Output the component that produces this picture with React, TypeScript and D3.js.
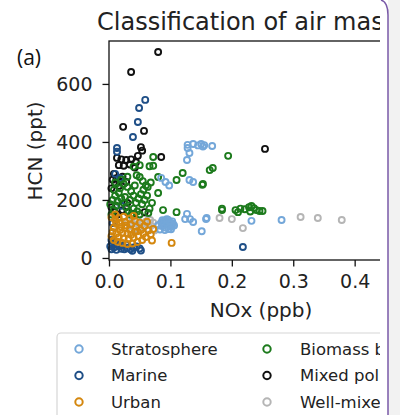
import * as d3 from 'd3';
import React, { useRef, useEffect } from 'react';

// NOx (ppb), HCN (ppt) pairs
const stratosphere: [number, number][] = [
  [0.128, 379], [0.137, 393], [0.150, 393], [0.155, 389], [0.153, 384], [0.168, 386], [0.145, 388],
  [0.128, 390], [0.131, 362], [0.127, 338], [0.131, 269], [0.137, 262], [0.085, 276], [0.092, 262],
  [0.098, 250], [0.127, 152], [0.132, 134], [0.124, 134], [0.137, 124], [0.159, 138], [0.151, 92],
  [0.158, 134], [0.232, 128], [0.281, 131],
  [0.083, 98], [0.086, 110], [0.088, 120], [0.090, 128], [0.092, 105], [0.094, 115], [0.095, 125],
  [0.097, 100], [0.099, 112], [0.100, 120], [0.102, 108], [0.104, 118], [0.091, 96], [0.087, 130],
  [0.096, 132], [0.103, 126], [0.089, 115], [0.093, 121], [0.098, 127], [0.085, 122], [0.106, 112],
  [0.080, 112], [0.101, 99], [0.094, 134],
];
const marine: [number, number][] = [
  [0.059, 545], [0.049, 517], [0.047, 469], [0.039, 417], [0.013, 379], [0.013, 366], [0.218, 38],
  [0.010, 290], [0.018, 275], [0.014, 195], [0.020, 180], [0.006, 120], [0.008, 105],
  [0.004, 30], [0.008, 36], [0.012, 28], [0.016, 40], [0.020, 32], [0.025, 30], [0.030, 35],
  [0.035, 30], [0.040, 36], [0.006, 48], [0.010, 55], [0.004, 62], [0.015, 45], [0.022, 42],
  [0.028, 46], [0.045, 40], [0.050, 33], [0.052, 26], [0.038, 25], [0.002, 40],
];
const urban: [number, number][] = [
  [0.004, 140], [0.010, 132], [0.016, 138], [0.024, 142], [0.034, 136], [0.042, 128], [0.050, 122],
  [0.058, 110], [0.064, 95], [0.068, 82], [0.060, 72], [0.054, 62], [0.046, 55], [0.038, 50],
  [0.030, 48], [0.022, 52], [0.014, 56], [0.008, 62], [0.004, 75], [0.006, 90], [0.008, 105],
  [0.012, 118], [0.018, 122], [0.026, 124], [0.036, 115], [0.044, 108], [0.052, 96], [0.056, 84],
  [0.048, 76], [0.040, 70], [0.032, 66], [0.024, 68], [0.016, 72], [0.012, 84], [0.018, 96],
  [0.026, 104], [0.034, 98], [0.042, 90], [0.030, 84], [0.022, 86], [0.036, 80], [0.046, 92],
  [0.020, 108], [0.028, 112], [0.062, 125], [0.072, 100], [0.102, 52], [0.070, 60], [0.040, 145],
  [0.010, 150],
];
const biomass: [number, number][] = [
  [0.072, 348], [0.072, 318], [0.066, 316], [0.050, 320], [0.040, 315], [0.080, 279], [0.050, 279],
  [0.063, 245], [0.080, 224], [0.110, 269], [0.120, 293], [0.153, 255], [0.164, 303], [0.152, 252],
  [0.169, 310], [0.194, 352], [0.088, 165], [0.110, 158],
  [0.184, 165], [0.184, 170], [0.206, 165], [0.210, 158], [0.221, 168], [0.228, 175], [0.232, 179],
  [0.236, 172], [0.240, 165], [0.245, 162], [0.250, 162], [0.230, 160], [0.214, 170],
  [0.004, 150], [0.008, 165], [0.012, 180], [0.006, 200], [0.010, 215], [0.016, 225], [0.020, 205],
  [0.024, 190], [0.028, 175], [0.032, 160], [0.036, 150], [0.040, 170], [0.044, 190], [0.048, 205],
  [0.052, 220], [0.056, 235], [0.060, 250], [0.036, 230], [0.030, 245], [0.024, 255], [0.018, 240],
  [0.042, 250], [0.046, 160], [0.054, 185], [0.058, 200], [0.062, 215], [0.066, 170], [0.070, 190],
  [0.014, 195], [0.026, 210], [0.034, 200], [0.040, 215], [0.050, 150], [0.064, 155], [0.002, 185],
  [0.068, 260], [0.010, 260], [0.020, 270], [0.030, 280], [0.045, 285], [0.055, 265], [0.008, 235],
];
const mixed: [number, number][] = [
  [0.080, 710], [0.036, 641], [0.023, 452], [0.057, 438], [0.052, 382], [0.054, 370], [0.047, 352],
  [0.085, 348], [0.254, 376],
  [0.013, 345], [0.020, 340], [0.028, 338], [0.036, 340], [0.044, 330], [0.016, 320], [0.024, 318],
  [0.034, 322], [0.042, 312], [0.008, 290], [0.012, 275], [0.018, 265], [0.010, 255], [0.016, 248],
  [0.022, 280], [0.028, 262], [0.006, 270], [0.004, 240],
  [0.008, 160], [0.014, 150], [0.022, 165], [0.030, 158], [0.040, 152], [0.058, 158], [0.004, 175],
  [0.030, 190],
];
const wellMixed: [number, number][] = [
  [0.180, 138], [0.200, 134], [0.218, 103], [0.312, 141], [0.340, 138], [0.379, 131], [0.067, 131],
  [0.030, 128], [0.038, 120], [0.046, 130], [0.054, 118], [0.060, 125], [0.068, 112], [0.072, 122],
  [0.050, 108], [0.042, 100], [0.064, 100], [0.074, 95], [0.056, 135], [0.034, 110], [0.080, 115],
];

const legendNames = ['Stratosphere', 'Marine', 'Urban', 'Biomass burning', 'Mixed pollution', 'Well-mixed background'];
const legendColors = ['#74a7d9', '#1f4f87', '#d4870e', '#1c7a1c', '#111111', '#b5b5b5'];
const xTicks = [0, 0.1, 0.2, 0.3, 0.4];
const yTicks = [0, 200, 400, 600];

// draw order (bottom to top)
const layers = [
  { data: wellMixed, color: legendColors[5] },
  { data: mixed, color: legendColors[4] },
  { data: marine, color: legendColors[1] },
  { data: biomass, color: legendColors[3] },
  { data: stratosphere, color: legendColors[0] },
  { data: urban, color: legendColors[2] },
];

export default function App() {
  const svgRef = useRef(null);

  useEffect(() => {
    if (!svgRef.current) return;
    const svg = d3.select(svgRef.current);
    svg.selectAll('*').remove();

    const left = 109, right = 413, top = 41, bottom = 260;
    const x = d3.scaleLinear().domain([0, 0.495]).range([left, right]);
    const y = d3.scaleLinear().domain([-7, 748]).range([bottom, top]);
    const font = 'DejaVu Sans, sans-serif';

    svg.append('rect').attr('width', 400).attr('height', 415).attr('fill', 'white');

    svg.append('defs').append('clipPath').attr('id', 'crop')
      .append('rect').attr('x', 0).attr('y', 0).attr('width', 380).attr('height', 415);

    const g = svg.append('g').attr('clip-path', 'url(#crop)');

    // title and panel letter
    g.append('text').attr('x', 97).attr('y', 30).attr('font-family', font).attr('font-size', 24)
      .attr('fill', '#222').text('Classification of air masses');
    svg.append('text').attr('x', 17).attr('y', 65).attr('font-family', 'Open Sans, sans-serif').attr('font-size', 21)
      .attr('fill', '#111').text('(a)');

    // points
    layers.forEach(layer => {
      g.append('g').selectAll('circle')
        .data(layer.data)
        .enter()
        .append('circle')
          .attr('cx', d => x(d[0]))
          .attr('cy', d => y(d[1]))
          .attr('r', 3)
          .attr('fill', 'none')
          .attr('stroke', layer.color)
          .attr('stroke-width', 1.9);
    });

    // frame
    g.append('rect').attr('x', left).attr('y', top).attr('width', right - left).attr('height', bottom - top)
      .attr('fill', 'none').attr('stroke', '#111').attr('stroke-width', 1.3);

    const xAxis = g.append('g').attr('transform', `translate(0,${bottom})`)
      .call(d3.axisBottom(x).tickValues(xTicks).tickFormat(d3.format('.1f')).tickSize(6.5).tickPadding(8));
    const yAxis = g.append('g').attr('transform', `translate(${left},0)`)
      .call(d3.axisLeft(y).tickValues(yTicks).tickSize(6.5).tickPadding(10));
    [xAxis, yAxis].forEach(a => {
      a.select('.domain').remove();
      a.selectAll('line').attr('stroke', '#111').attr('stroke-width', 1.3);
      a.selectAll('text').attr('font-family', font).attr('font-size', 19).attr('fill', '#222');
    });

    // axis labels
    g.append('text').attr('x', 261).attr('y', 317).attr('text-anchor', 'middle')
      .attr('font-family', font).attr('font-size', 20).attr('fill', '#222').text('NOx (ppb)');
    g.append('text').attr('transform', 'translate(42,151) rotate(-90)').attr('text-anchor', 'middle')
      .attr('font-family', font).attr('font-size', 20).attr('fill', '#222').text('HCN (ppt)');

    // legend
    const lg = g.append('g');
    lg.append('rect').attr('x', 57).attr('y', 333).attr('width', 400).attr('height', 120).attr('rx', 4)
      .attr('fill', 'white').attr('stroke', '#d6d6d6').attr('stroke-width', 1.2);
    const rows = [349, 375.5, 402];
    legendNames.forEach((name, i) => {
      const col = Math.floor(i / 3);
      const mx = col === 0 ? 79 : 267;
      const tx = col === 0 ? 111 : 300;
      const ry = rows[i % 3];
      lg.append('circle').attr('cx', mx).attr('cy', ry).attr('r', 3.7)
        .attr('fill', 'none').attr('stroke', legendColors[i]).attr('stroke-width', 2);
      lg.append('text').attr('x', tx).attr('y', ry).attr('dy', '0.36em')
        .attr('font-family', font).attr('font-size', 16.5).attr('fill', '#222').text(name);
    });

    // window edge on the right
    svg.append('rect').attr('x', 388).attr('y', 0).attr('width', 12).attr('height', 415).attr('fill', '#f2f2f2');
    svg.append('path').attr('d', 'M381,0 Q388,2 388,15 L388,415').attr('fill', 'none')
      .attr('stroke', '#7a5aa8').attr('stroke-width', 1.5);
  }, []);

  return (
    <svg ref={svgRef} width={400} height={415} style={{ position: 'absolute', left: 0, top: 0, display: 'block' }} />
  );
}
